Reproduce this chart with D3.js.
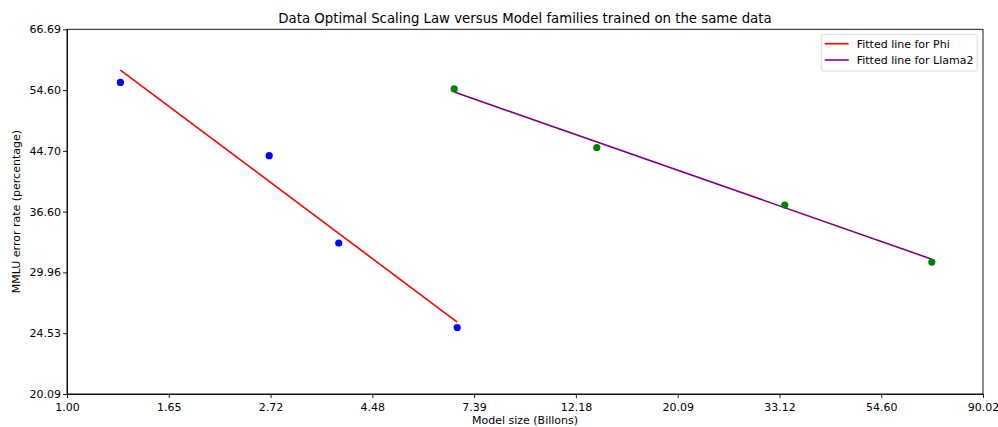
<!DOCTYPE html>
<html>
<head>
<meta charset="utf-8">
<script src="https://cdn.jsdelivr.net/npm/d3@7"></script>
<style>
  body { margin: 0; background: #fff; }
  svg text { font-family: "DejaVu Sans", sans-serif; fill: #000; }
  .axis path, .axis line { stroke: #000; stroke-width: 0.9; }
</style>
</head>
<body>
<div id="chart"></div>
<script>
// data (model size in billions, MMLU error %)
var phiSize = [1.3, 2.7, 3.8, 6.8];
var phiError = [56.0, 44.0, 33.0, 25.0];
var llamaSize = [6.7, 13.5, 34, 70];
var llamaError = [54.8, 45.2, 37.4, 31.0];

// fitted line endpoints
var phiFitSize = [1.3, 6.8];
var phiFitError = [58.3, 25.45];
var llamaFitSize = [6.7, 70];
var llamaFitError = [54.25, 31.3];

var xTickLabels = ["1.00", "1.65", "2.72", "4.48", "7.39", "12.18", "20.09", "33.12", "54.60", "90.02"];
var yTickLabels = ["20.09", "24.53", "29.96", "36.60", "44.70", "54.60", "66.69"];

var svgWidth = 998;
var svgHeight = 427;

var margin = {
  top: 29.3,
  right: 15,
  bottom: 33,
  left: 67
};

var chartWidth = svgWidth - margin.left - margin.right;
var chartHeight = svgHeight - margin.top - margin.bottom;

var svg = d3.select("#chart")
  .append("svg")
  .attr("width", svgWidth)
  .attr("height", svgHeight);

var chartGroup = svg.append("g")
  .attr("transform", `translate(${margin.left}, ${margin.top})`);

var xScale = d3.scaleLog()
  .base(Math.E)
  .domain([+xTickLabels[0], Math.exp(4.5)])
  .range([0, chartWidth]);

var yScale = d3.scaleLog()
  .base(Math.E)
  .domain([Math.exp(3), Math.exp(4.2)])
  .range([chartHeight, 0]);

var xTicks = xTickLabels.map((d, i) => Math.exp(i * 0.5));
var yTicks = yTickLabels.map((d, i) => Math.exp(3 + i * 0.2));

var bottomAxis = d3.axisBottom(xScale)
  .tickValues(xTicks)
  .tickFormat((d, i) => xTickLabels[i])
  .tickSizeInner(4)
  .tickSizeOuter(0);

var leftAxis = d3.axisLeft(yScale)
  .tickValues(yTicks)
  .tickFormat((d, i) => yTickLabels[i])
  .tickSizeInner(4)
  .tickSizeOuter(0);

chartGroup.append("g")
  .attr("class", "axis")
  .attr("transform", `translate(0, ${chartHeight})`)
  .call(bottomAxis)
  .selectAll("text")
  .attr("font-size", 11)
  .attr("dy", "0.95em")
  .style("font-family", "DejaVu Sans");

chartGroup.append("g")
  .attr("class", "axis")
  .call(leftAxis)
  .selectAll("text")
  .attr("font-size", 11)
  .attr("x", -6)
  .style("font-family", "DejaVu Sans");

// frame
chartGroup.append("rect")
  .attr("width", chartWidth)
  .attr("height", chartHeight)
  .attr("fill", "none")
  .attr("stroke", "#000")
  .attr("stroke-width", 0.9);

var line = d3.line()
  .x(d => xScale(d[0]))
  .y(d => yScale(d[1]));

chartGroup.append("path")
  .datum(d3.zip(phiFitSize, phiFitError))
  .attr("d", line)
  .attr("fill", "none")
  .attr("stroke", "red")
  .attr("stroke-width", 1.6);

chartGroup.append("path")
  .datum(d3.zip(llamaFitSize, llamaFitError))
  .attr("d", line)
  .attr("fill", "none")
  .attr("stroke", "purple")
  .attr("stroke-width", 1.6);

chartGroup.selectAll(".phi")
  .data(d3.zip(phiSize, phiError))
  .enter()
  .append("circle")
  .attr("class", "phi")
  .attr("cx", d => xScale(d[0]))
  .attr("cy", d => yScale(d[1]))
  .attr("r", 3.6)
  .attr("fill", "blue");

chartGroup.selectAll(".llama")
  .data(d3.zip(llamaSize, llamaError))
  .enter()
  .append("circle")
  .attr("class", "llama")
  .attr("cx", d => xScale(d[0]))
  .attr("cy", d => yScale(d[1]))
  .attr("r", 3.6)
  .attr("fill", "green");

// title
svg.append("text")
  .attr("x", margin.left + chartWidth / 2)
  .attr("y", 23)
  .attr("text-anchor", "middle")
  .attr("font-size", 13.3)
  .text("Data Optimal Scaling Law versus Model families trained on the same data");

svg.append("text")
  .attr("x", margin.left + chartWidth / 2)
  .attr("y", 423.5)
  .attr("text-anchor", "middle")
  .attr("font-size", 11)
  .text("Model size (Billons)");

svg.append("text")
  .attr("transform", "rotate(-90)")
  .attr("x", -(margin.top + chartHeight / 2))
  .attr("y", 20)
  .attr("text-anchor", "middle")
  .attr("font-size", 11)
  .text("MMLU error rate (percentage)");

// legend
var legend = svg.append("g")
  .attr("transform", "translate(821.3, 34.3)");

legend.append("rect")
  .attr("width", 156)
  .attr("height", 36.7)
  .attr("rx", 2)
  .attr("fill", "#fff")
  .attr("fill-opacity", 0.8)
  .attr("stroke", "#d6d6d6")
  .attr("stroke-width", 0.9);

var legendItems = [
  { label: "Fitted line for Phi", color: "red" },
  { label: "Fitted line for Llama2", color: "purple" }
];

legendItems.forEach(function(d, i) {
  var y = 9.4 + i * 16.3;
  legend.append("line")
    .attr("x1", 3.4)
    .attr("x2", 27.4)
    .attr("y1", y)
    .attr("y2", y)
    .attr("stroke", d.color)
    .attr("stroke-width", 1.6);
  legend.append("text")
    .attr("x", 35.4)
    .attr("y", y + 4)
    .attr("font-size", 11)
    .text(d.label);
});
</script>
</body>
</html>
